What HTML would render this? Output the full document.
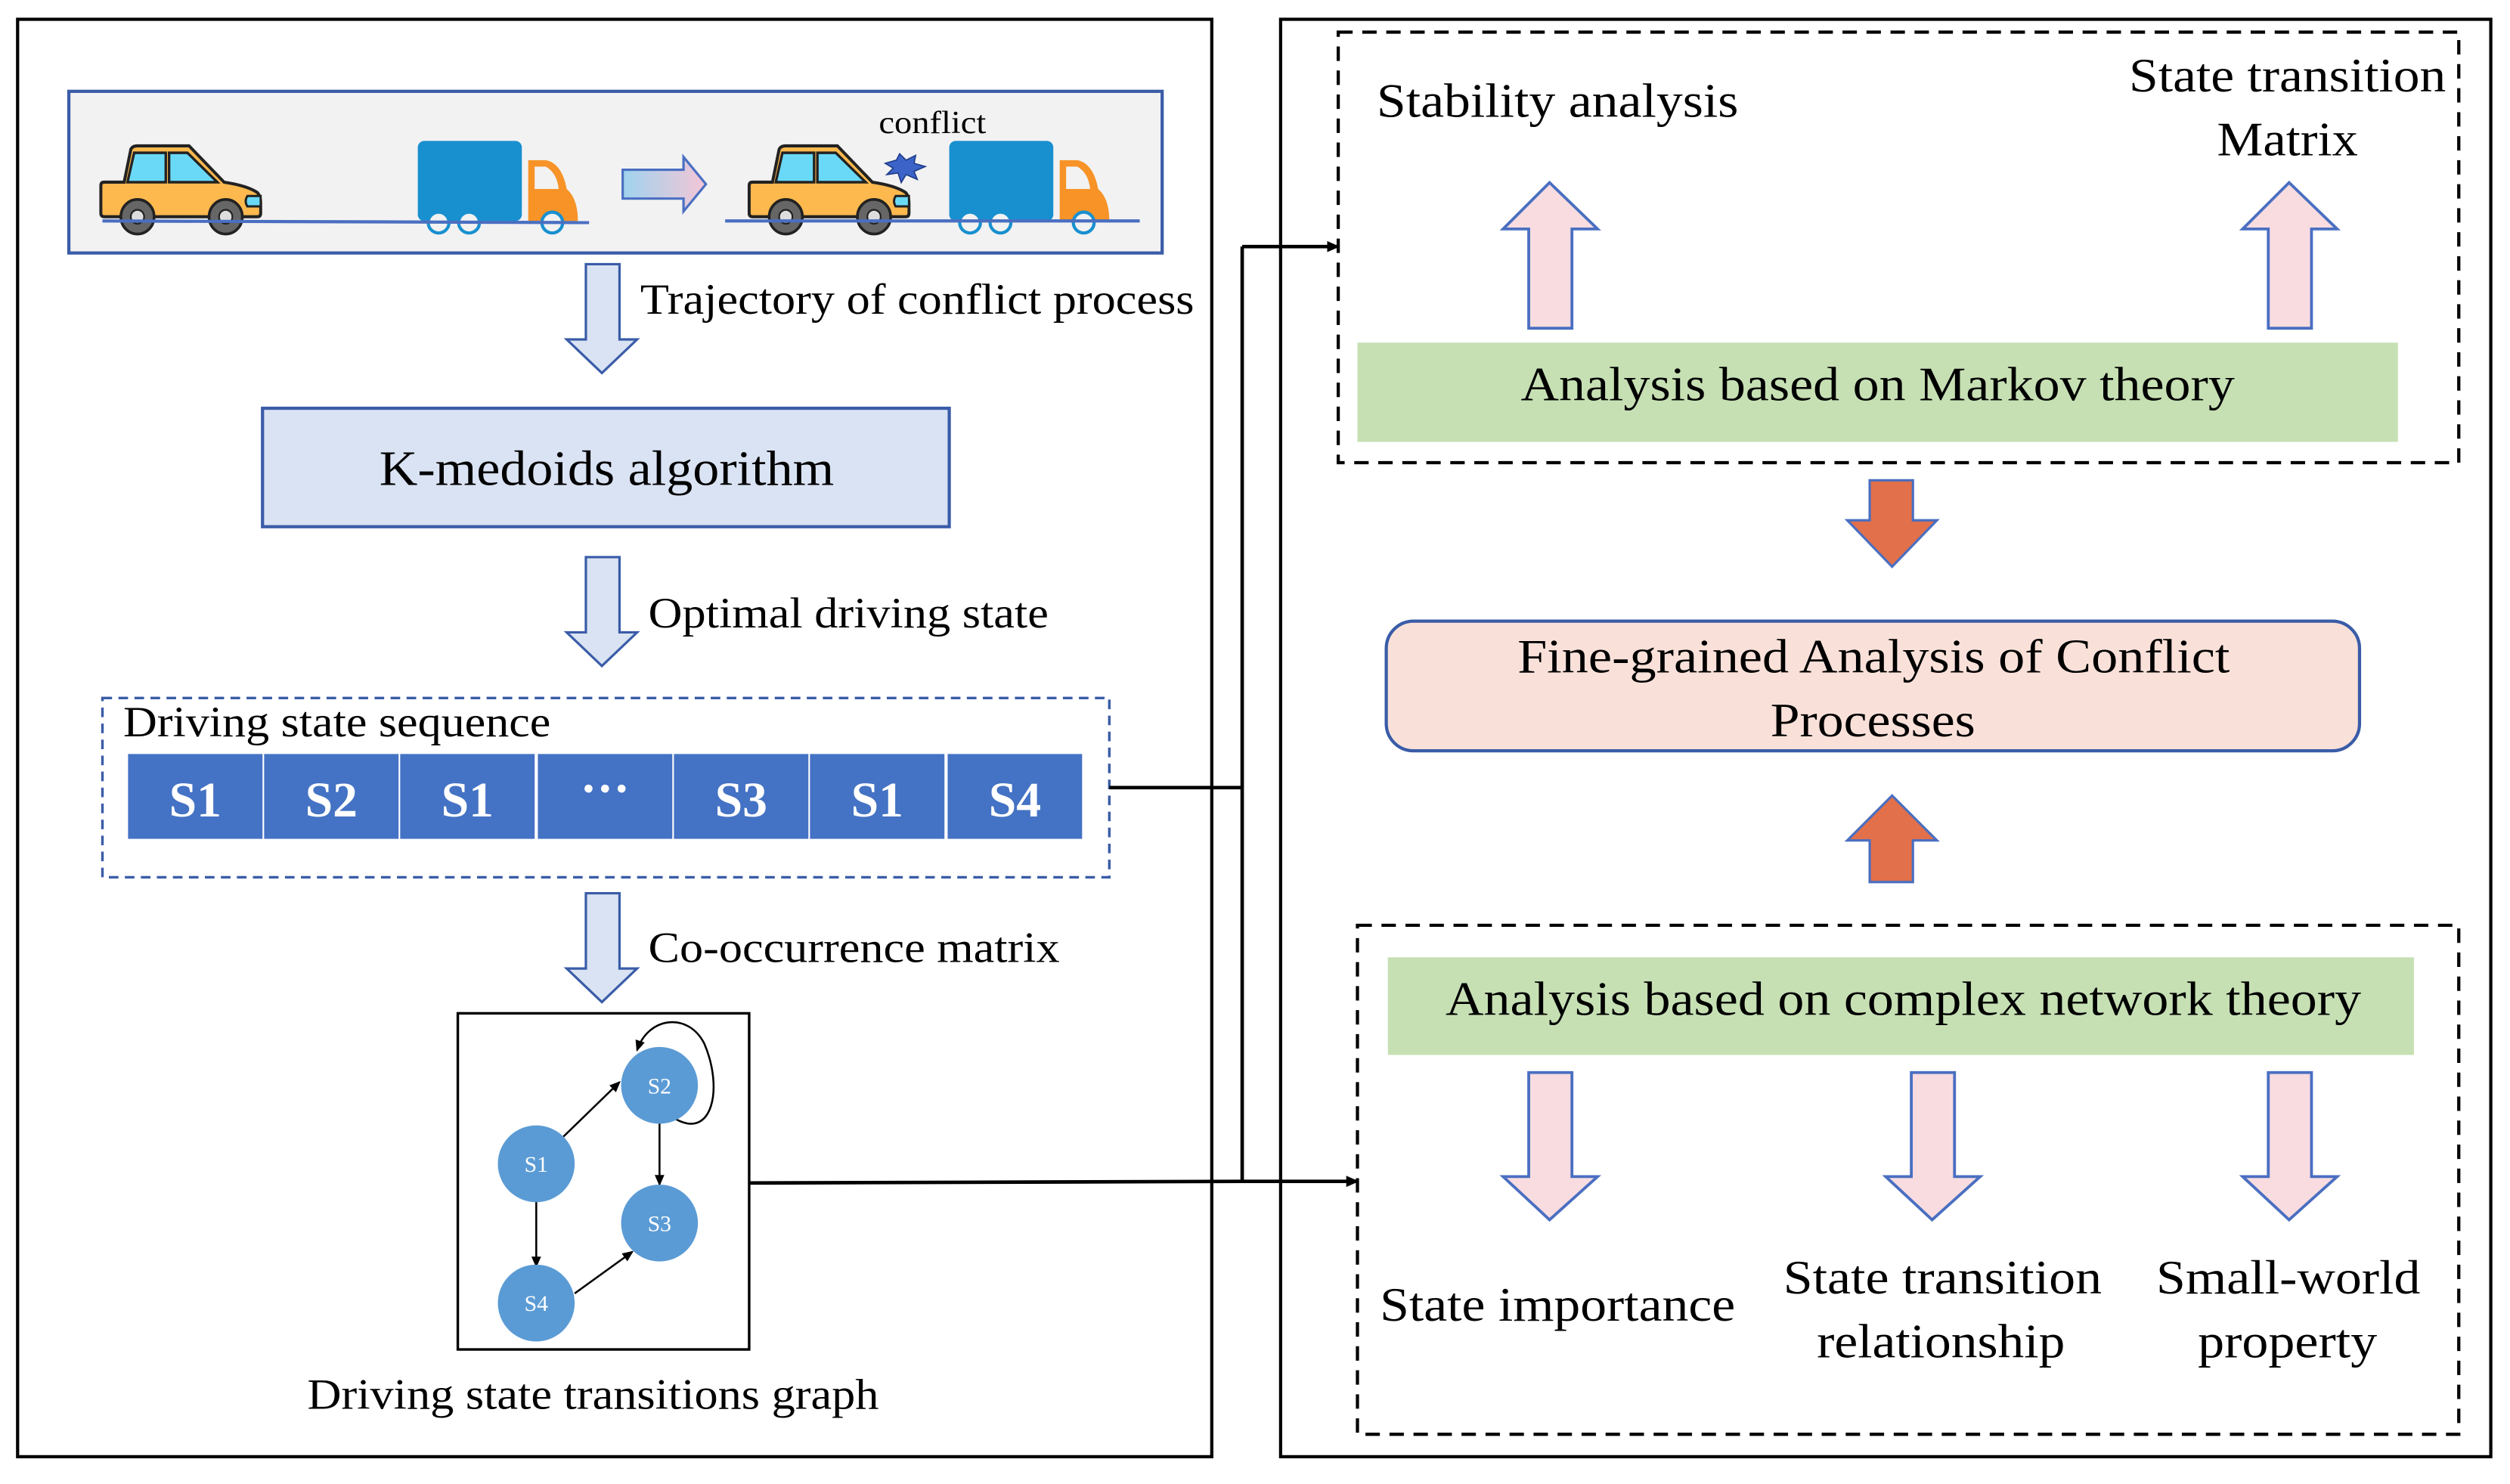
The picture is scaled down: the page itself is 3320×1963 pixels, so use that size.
<!DOCTYPE html>
<html><head><meta charset="utf-8"><style>
html,body{margin:0;padding:0;background:#fff}
svg{display:block}
text{font-family:"Liberation Serif",serif;fill:#000}
</style></head><body>
<svg width="3320" height="1963" viewBox="0 0 1568 927" xmlns="http://www.w3.org/2000/svg">
<defs>
<marker id="ah" markerWidth="8" markerHeight="8" refX="7" refY="4" orient="auto" markerUnits="userSpaceOnUse"><path d="M0,0.5 L8,4 L0,7.5z" fill="#000"/></marker>
<marker id="ah2" markerWidth="7" markerHeight="7" refX="6" refY="3.5" orient="auto" markerUnits="userSpaceOnUse"><path d="M0,0.5 L7,3.5 L0,6.5z" fill="#000"/></marker>
<linearGradient id="gr" x1="0" x2="1"><stop offset="0" stop-color="#9fd3ee"/><stop offset="1" stop-color="#f4c6d6"/></linearGradient>
<g id="car">
<path d="M14,22 L18,3 Q19,1 22,1 L53,1 L74,22 Q88,24 94,28 Q96,30 96,34 L96,40 Q96,42 94,42 L2,42 Q0,42 0,40 L0,24 Q0,22 2,22 Z" fill="#fdb94e" stroke="#222" stroke-width="1.8"/>
<path d="M20,5 L39,5 L39,22 L16,22 Z" fill="#6ad9f7" stroke="#222" stroke-width="1.5"/>
<path d="M41,5 L52,5 L70,22 L41,22 Z" fill="#6ad9f7" stroke="#222" stroke-width="1.5"/>
<path d="M88,30 L96,30 L96,36 L88,36 Q86,33 88,30Z" fill="#6ad9f7" stroke="#222" stroke-width="1.3"/>
<circle cx="22" cy="42" r="10" fill="#666" stroke="#222" stroke-width="1.6"/><circle cx="22" cy="42" r="4" fill="#ddd" stroke="#222"/>
<circle cx="75" cy="42" r="10" fill="#666" stroke="#222" stroke-width="1.6"/><circle cx="75" cy="42" r="4" fill="#ddd" stroke="#222"/>
</g>
<g id="truck">
<rect x="0" y="0" width="65" height="50" rx="4" fill="#1890d0"/>
<path d="M69,12 L80,12 Q90,14 93,30 Q100,36 100,50 L69,50 Z" fill="#f79327"/>
<path d="M73,16 L80,16 Q87,20 88,30 L73,30 Z" fill="#f2f2f2"/>
<g fill="#f2f2f2" stroke="#1890d0" stroke-width="2"><circle cx="13" cy="51" r="6.5"/><circle cx="32" cy="51" r="6.5"/><circle cx="84" cy="51" r="6.5"/></g>
</g>
</defs>

<rect x="11" y="12" width="746" height="898" fill="none" stroke="#000" stroke-width="2"/>
<rect x="800" y="12" width="756" height="898" fill="none" stroke="#000" stroke-width="2"/>

<rect x="43" y="57" width="683" height="101" fill="#f2f2f2" stroke="#3a5ca8" stroke-width="2"/>
<use href="#car" transform="translate(63,90) scale(1.04,1.08)"/>
<use href="#truck" transform="translate(261,88)"/>
<line x1="64" y1="138" x2="368" y2="139" stroke="#4a6fc1" stroke-width="2"/>
<path d="M389,106 L427,106 L427,98 L441,115 L427,132 L427,124 L389,124 Z" fill="url(#gr)" stroke="#4a6fc1" stroke-width="1.5"/>
<use href="#car" transform="translate(468,90) scale(1.04,1.08)"/>
<path d="M553,102 L560,100 L562,96 L566,100 L572,97 L571,102 L578,104 L571,107 L573,112 L566,109 L563,114 L561,108 L554,109 L558,105 Z" fill="#3c64c8" stroke="#1f3d8a" stroke-width="0.8"/>
<use href="#truck" transform="translate(593,88)"/>
<line x1="453" y1="138" x2="712" y2="138" stroke="#4a6fc1" stroke-width="2"/>
<text x="549" y="83" font-size="20" textLength="67" lengthAdjust="spacingAndGlyphs">conflict</text>

<g fill="#dae3f3" stroke="#3a5ca8" stroke-width="1.5">
<path d="M366,165 L387,165 L387,212 L398,212 L376,233 L354,212 L366,212 Z"/>
<path d="M366,348 L387,348 L387,395 L398,395 L376,416 L354,395 L366,395 Z"/>
<path d="M366,558 L387,558 L387,605 L398,605 L376,626 L354,605 L366,605 Z"/>
</g>
<text x="400" y="196" font-size="27" textLength="346" lengthAdjust="spacingAndGlyphs">Trajectory of conflict process</text>
<rect x="164" y="255" width="429" height="74" fill="#dae3f3" stroke="#3a5ca8" stroke-width="2"/>
<text x="237" y="303" font-size="31" textLength="284" lengthAdjust="spacingAndGlyphs">K-medoids algorithm</text>
<text x="405" y="392" font-size="27" textLength="250" lengthAdjust="spacingAndGlyphs">Optimal driving state</text>

<rect x="64" y="436" width="629" height="112" fill="none" stroke="#3a5ca8" stroke-width="1.6" stroke-dasharray="6,4"/>
<text x="77" y="460" font-size="27" textLength="267" lengthAdjust="spacingAndGlyphs">Driving state sequence</text>
<g fill="#4472c4">
<rect x="80" y="471" width="84" height="53"/><rect x="165" y="471" width="84" height="53"/><rect x="250" y="471" width="84" height="53"/><rect x="336" y="471" width="84" height="53"/><rect x="421" y="471" width="84" height="53"/><rect x="506" y="471" width="84" height="53"/><rect x="592" y="471" width="84" height="53"/>
</g>
<g font-size="31" font-weight="bold" text-anchor="middle">
<text x="122" y="510" style="fill:#fff">S1</text><text x="207" y="510" style="fill:#fff">S2</text><text x="292" y="510" style="fill:#fff">S1</text><text x="378" y="503" style="fill:#fff">···</text><text x="463" y="510" style="fill:#fff">S3</text><text x="548" y="510" style="fill:#fff">S1</text><text x="634" y="510" style="fill:#fff">S4</text>
</g>
<text x="405" y="601" font-size="27" textLength="257" lengthAdjust="spacingAndGlyphs">Co-occurrence matrix</text>

<rect x="286" y="633" width="182" height="210" fill="#fff" stroke="#000" stroke-width="1.6"/>
<g stroke="#000" stroke-width="1.2" fill="none">
<line x1="352" y1="710" x2="387" y2="676" marker-end="url(#ah2)"/>
<line x1="412" y1="701" x2="412" y2="740" marker-end="url(#ah2)"/>
<line x1="335" y1="750" x2="335" y2="791" marker-end="url(#ah2)"/>
<line x1="359" y1="808" x2="395" y2="782" marker-end="url(#ah2)"/>
<path d="M422,699 C445,712 452,680 440,652 C430,632 405,635 398,656" marker-end="url(#ah2)"/>
</g>
<g fill="#5b9bd5">
<circle cx="412" cy="678" r="24"/><circle cx="335" cy="727" r="24"/><circle cx="412" cy="764" r="24"/><circle cx="335" cy="814" r="24"/>
</g>
<g font-size="14" text-anchor="middle">
<text x="412" y="683" style="fill:#fff">S2</text><text x="335" y="732" style="fill:#fff">S1</text><text x="412" y="769" style="fill:#fff">S3</text><text x="335" y="819" style="fill:#fff">S4</text>
</g>
<text x="192" y="880" font-size="27" textLength="357" lengthAdjust="spacingAndGlyphs">Driving state transitions graph</text>

<g stroke="#000" stroke-width="2.2" fill="none">
<polyline points="693,492 776,492"/>
<polyline points="468,739 776,738"/>
<polyline points="776,738 776,154"/>
<line x1="776" y1="154" x2="836" y2="154" marker-end="url(#ah)"/>
<line x1="776" y1="738" x2="848" y2="738" marker-end="url(#ah)"/>
</g>

<rect x="836" y="20" width="700" height="269" fill="none" stroke="#000" stroke-width="2" stroke-dasharray="9,6"/>
<text x="860" y="73" font-size="30" textLength="226" lengthAdjust="spacingAndGlyphs">Stability analysis</text>
<text x="1330" y="57" font-size="30" textLength="198" lengthAdjust="spacingAndGlyphs">State transition</text>
<text x="1385" y="97" font-size="30" textLength="88" lengthAdjust="spacingAndGlyphs">Matrix</text>
<g fill="#f8dce0" stroke="#4a6fc1" stroke-width="1.8">
<path d="M955,205 L955,143 L939,143 L968,114 L998,143 L982,143 L982,205 Z"/>
<path d="M1417,205 L1417,143 L1401,143 L1430,114 L1460,143 L1444,143 L1444,205 Z"/>
<path d="M955,670 L982,670 L982,735 L998,735 L968,762 L939,735 L955,735 Z"/>
<path d="M1194,670 L1221,670 L1221,735 L1237,735 L1207,762 L1178,735 L1194,735 Z"/>
<path d="M1417,670 L1444,670 L1444,735 L1460,735 L1430,762 L1401,735 L1417,735 Z"/>
</g>
<rect x="848" y="214" width="650" height="62" fill="#c6e0b4"/>
<text x="950" y="250" font-size="30" textLength="446" lengthAdjust="spacingAndGlyphs">Analysis based on Markov theory</text>
<g fill="#e2704a" stroke="#4a6fc1" stroke-width="1.5">
<path d="M1168,300 L1195,300 L1195,325 L1210,325 L1182,354 L1154,325 L1168,325 Z"/>
<path d="M1168,551 L1195,551 L1195,525 L1210,525 L1182,497 L1154,525 L1168,525 Z"/>
</g>
<rect x="866" y="388" width="608" height="81" rx="17" fill="#f9e1d9" stroke="#3a5ca8" stroke-width="2"/>
<text x="948" y="420" font-size="30" textLength="445" lengthAdjust="spacingAndGlyphs">Fine-grained Analysis of Conflict</text>
<text x="1106" y="460" font-size="30" textLength="128" lengthAdjust="spacingAndGlyphs">Processes</text>
<rect x="848" y="578" width="688" height="318" fill="none" stroke="#000" stroke-width="2" stroke-dasharray="9,6"/>
<rect x="867" y="598" width="641" height="61" fill="#c6e0b4"/>
<text x="903" y="634" font-size="30" textLength="572" lengthAdjust="spacingAndGlyphs">Analysis based on complex network theory</text>
<text x="862" y="825" font-size="30" textLength="222" lengthAdjust="spacingAndGlyphs">State importance</text>
<text x="1114" y="808" font-size="30" textLength="199" lengthAdjust="spacingAndGlyphs">State transition</text>
<text x="1135" y="848" font-size="30" textLength="155" lengthAdjust="spacingAndGlyphs">relationship</text>
<text x="1347" y="808" font-size="30" textLength="165" lengthAdjust="spacingAndGlyphs">Small-world</text>
<text x="1373" y="848" font-size="30" textLength="112" lengthAdjust="spacingAndGlyphs">property</text>
</svg>
</body></html>
